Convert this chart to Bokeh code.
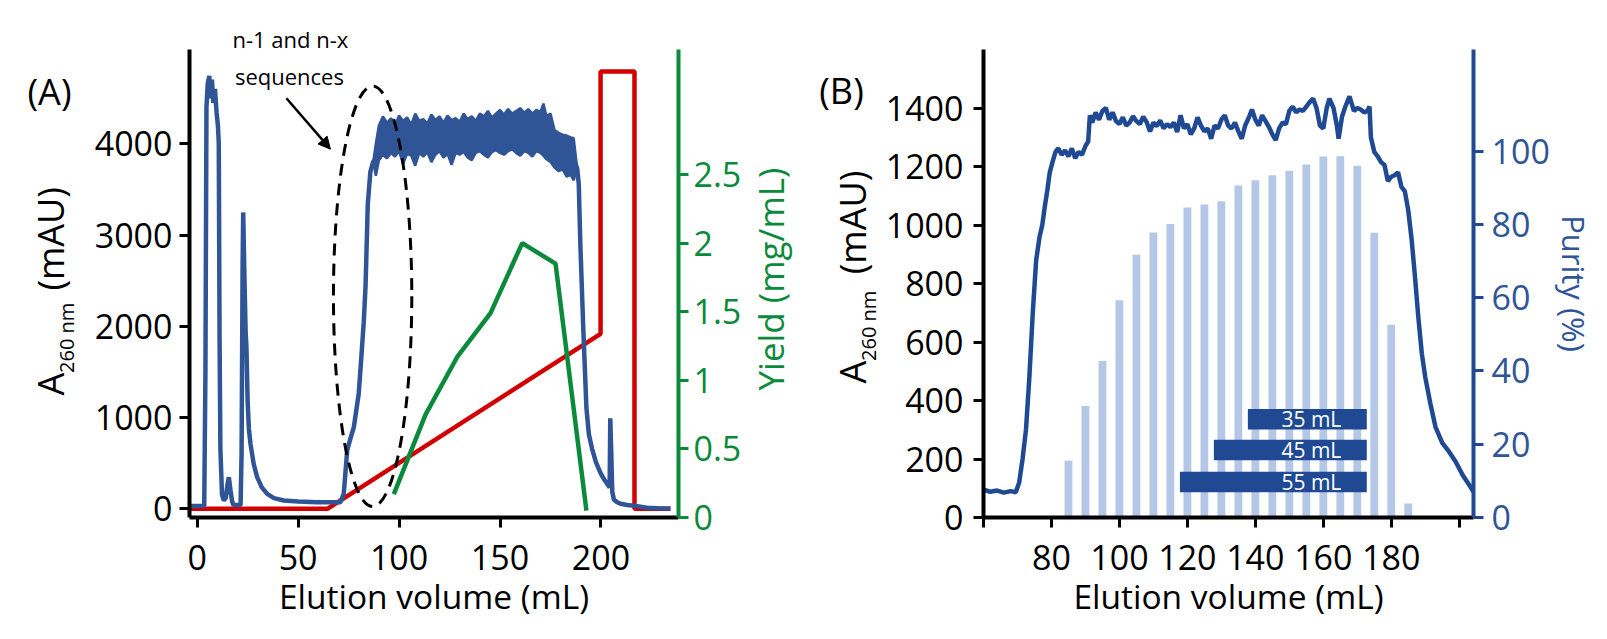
import math
from bokeh.plotting import figure
from bokeh.models import (Range1d, LinearAxis, FixedTicker, Label, Arrow, NormalHead,
                          CustomJSTickFormatter, Title)
from bokeh.layouts import row
from bokeh.core.properties import value
from bokeh.embed import file_html
from bokeh.resources import INLINE

FONT = "Open Sans"

# ---------------- Panel A data ----------------
# A260 trace (mL, mAU) before and after the noisy product plateau
a_rise_vol = [-3.8, 3.5, 4.1, 4.6, 5.2, 6.0, 6.6, 7.3, 8.0, 8.8, 9.6, 10.3, 10.7, 11.1, 11.5, 12.3, 13.2,
              14.2, 15.0, 15.7, 16.5, 17.3, 18.0, 21.5, 22.0, 22.5, 22.8, 23.3, 24.0, 24.4, 25.0, 25.6,
              26.4, 28.0, 29.7, 32.0, 34.7, 38.0, 42.9, 50.0, 59.4, 71.0, 72.6, 74.3, 76.0, 77.6, 80.0,
              81.2, 82.5, 83.4, 84.5, 85.8, 87.2]
a_rise_abs = [31, 31, 1534, 4397, 4652, 4744, 4499, 4703, 4448, 4601, 4346, 4192, 4008, 1840, 660, 153, 92,
              123, 266, 347, 204, 82, 41, 41, 613, 2658, 3248, 2658, 1943, 1774, 1176, 881,
              713, 491, 347, 235, 164, 118, 91, 80, 73, 73, 164, 639, 777, 895, 1260,
              1626, 2045, 2444, 3338, 3696, 3804]
a_fall_vol = [188.2, 189.0, 189.8, 191.2, 192.8, 194.0, 195.6, 197.5, 199.8, 202.0, 204.3, 204.6, 205.1,
              205.6, 206.4, 208.0, 209.7, 213.0, 216.2, 222.9, 228.0, 234.4]
a_fall_abs = [3732, 3560, 2891, 1998, 1104, 818, 658, 511, 391, 307, 234, 993, 613, 184, 102, 72, 55, 43,
              33, 11, 6, 4]
# noisy plateau envelope (upper / lower edge of the trace)
a_plat_vol = [87.2, 88.5, 90, 92, 94, 96, 98, 100, 102, 104, 106, 108, 110, 112, 114, 116, 118, 120, 122,
              124, 126, 128, 130, 132, 134, 136, 138, 140, 142, 144, 146, 148, 150, 152, 154, 156, 158,
              160, 162, 164, 166, 168, 170, 171.5, 173, 175, 177, 179, 181, 183, 185, 186.5, 188.2]
a_plat_hi = [3804, 4000, 4200, 4300, 4230, 4280, 4200, 4310, 4250, 4290, 4210, 4330, 4250, 4270, 4220, 4320,
             4260, 4300, 4230, 4310, 4260, 4280, 4240, 4330, 4270, 4300, 4250, 4330, 4300, 4360, 4290, 4330,
             4370, 4320, 4380, 4330, 4360, 4390, 4340, 4380, 4330, 4370, 4350, 4440, 4300, 4330, 4150, 4120,
             4100, 4090, 4070, 4060, 3732]
a_plat_lo = [3804, 3650, 3820, 3880, 3840, 3900, 3860, 3920, 3780, 3890, 3870, 3760, 3900, 3860, 3910, 3800,
             3880, 3920, 3850, 3890, 3770, 3900, 3880, 3910, 3850, 3820, 3900, 3920, 3880, 3850, 3910, 3930,
             3900, 3880, 3920, 3940, 3900, 3870, 3920, 3900, 3860, 3920, 3900, 3870, 3830, 3800, 3740, 3700,
             3720, 3640, 3660, 3600, 3732]
# gradient (red) trace on the A260 scale
a_grad_vol = [-3.8, 64.5, 199.8, 199.8, 216.6, 216.6, 234.4]
a_grad_val = [0, 0, 1918, 4792, 4792, 0, 0]
# yield (green)
a_yield_vol = [97.4, 113.1, 128.8, 145.3, 161.0, 177.5, 192.8]
a_yield = [0.17, 0.75, 1.17, 1.49, 2.0, 1.85, 0.05]
a_xticks = [0, 50, 100, 150, 200]
a_yticks = [0, 1000, 2000, 3000, 4000]
a_yield_ticks = [0, 0.5, 1, 1.5, 2, 2.5]
# annotation: dashed ellipse around the n-1 / n-x region and its arrow
ell_center = (86.9, 2329)
ell_size = (38.8, 4607)
arrow_from = (44.2, 4499)
arrow_to = (66.0, 3941)
note_lines = ["n-1 and n-x", "sequences"]
note_pos = (45.7, 4743)

# ---------------- Panel B data ----------------
b_vol = [60, 62, 64, 66, 68, 69.5, 70.5, 71.5, 72.5, 73.5, 74.5, 75.5, 76.5, 77.3, 78, 78.8, 79.5, 80.3,
         81.2, 82, 83, 84, 85, 86, 87, 88, 89, 90, 90.8, 91.3, 92, 93, 94, 95, 96, 97, 98, 99, 100,
         101, 102, 103, 104, 105, 106, 107, 108, 109, 110, 111, 112, 113, 114, 115, 116, 117, 118, 119,
         120, 121, 122, 123, 124, 125, 126, 127, 128, 129, 130, 131, 132, 133, 134, 135, 136, 137, 138,
         139, 140, 141, 142, 143, 144, 145, 146, 147, 148, 149, 150, 151, 152, 153, 154, 155, 156, 157,
         158, 159, 160, 161, 161.8, 163, 164, 164.5, 165.5, 166.5, 167.7, 169, 170, 171, 172, 173, 173.6,
         174, 175, 176, 177, 178, 179, 180, 181, 182, 183, 184, 185, 186, 187, 188, 189, 190, 191.5,
         193, 195, 197, 199, 201, 203, 204.2]
b_abs = [95, 88, 92, 85, 90, 86, 120, 200, 300, 480, 700, 880, 960, 1000, 1060, 1120, 1180, 1215,
         1250, 1262, 1240, 1255, 1235, 1262, 1228, 1250, 1240, 1270, 1285, 1375, 1350, 1385, 1360, 1390,
         1400, 1360, 1385, 1355, 1345, 1368, 1340, 1350, 1372, 1355, 1345, 1370, 1352, 1320, 1350, 1338,
         1358, 1330, 1345, 1335, 1350, 1318, 1375, 1330, 1345, 1310, 1330, 1368, 1340, 1320, 1330, 1295,
         1340, 1330, 1360, 1375, 1340, 1330, 1350, 1320, 1295, 1340, 1365, 1395, 1360, 1340, 1375, 1355,
         1335, 1310, 1290, 1330, 1350, 1345, 1390, 1405, 1385, 1395, 1390, 1405, 1420, 1432, 1400, 1340,
         1330, 1400, 1432, 1400, 1340, 1295, 1370, 1405, 1440, 1390, 1400, 1395, 1385, 1390, 1405,
         1300, 1250, 1235, 1215, 1205, 1150, 1165, 1170, 1180, 1130, 1115, 1050, 950, 820, 680, 560, 480,
         390, 310, 255, 225, 190, 145, 110, 88]
b_frac_vol = [85, 90, 95, 100, 105, 110, 115, 120, 125, 130, 135, 140, 145, 150, 155, 160, 165, 170, 175,
              180, 185]
b_purity = [15.5, 30.4, 42.7, 59.3, 71.7, 77.8, 80.1, 84.6, 85.4, 86.3, 90.6, 92.0, 93.4, 94.6, 96.3,
            98.5, 98.6, 96.0, 77.7, 52.6, 3.8]
b_pool_len = [35, 45, 55]
b_pool_end = [172.8, 172.8, 172.8]
b_pool_row = [26.8, 18.4, 9.7]
b_pool_text = ["35 mL", "45 mL", "55 mL"]
b_xticks = [60, 80, 100, 120, 140, 160, 180, 200]
b_yticks = [0, 200, 400, 600, 800, 1000, 1200, 1400]
b_ptick = [0, 20, 40, 60, 80, 100]

BLUE_A = "#2f5597"
RED = "#d20000"
GREEN = "#0b8a3c"
BLUE_B = "#1f4a93"
LIGHT = "#b4c7e7"
H = 639
TOP = 49          # common border above the plot frames
BOTTOM = 122      # common border below the plot frames
FH = H - TOP - BOTTOM
LW = 4.5
TICK_FS = "34px"


def style_axis(ax, color, ticks, standoff, label_color=None, fmt=None):
    ax.ticker = FixedTicker(ticks=ticks, minor_ticks=[])
    ax.axis_line_color = color
    ax.axis_line_width = 4
    ax.major_tick_line_color = color
    ax.major_tick_line_width = 3
    ax.major_tick_out = 10
    ax.major_tick_in = 0
    ax.minor_tick_line_color = None
    ax.major_label_text_font = FONT
    ax.major_label_text_font_size = TICK_FS
    ax.major_label_text_color = label_color or color
    ax.major_label_standoff = standoff
    if fmt is not None:
        ax.formatter = fmt


def text_fig(width):
    # frame aligned with the plot frames of the row; coordinates are pixels from frame bottom-left
    t = figure(width=width, height=H, x_range=Range1d(0, width), y_range=Range1d(0, FH), title=None,
               x_axis_type=None, y_axis_type=None, output_backend="svg", toolbar_location=None,
               min_border=0, min_border_left=0, min_border_right=0, min_border_top=TOP,
               min_border_bottom=BOTTOM)
    t.outline_line_color = None
    return t


def lab(p, text, x, y, size, color="black", angle=0.0):
    p.add_layout(Label(x=x, y=y, text=text, text_font=FONT, text_font_size=size, text_color=color,
                       angle=angle, text_align="center", text_baseline="middle"))


UP = math.pi / 2
# page layout (px from page left): tA 0-85 | pA 85-745 | tAR 745-800 | tB 800-882 | pB 882-1607
tA = text_fig(85)
lab(tA, "(A)", 49, 426, "36px")
lab(tA, "A", 50.3, 133.5, "36px", angle=UP)
lab(tA, "260 nm", 66.1, 179.7, "20px", angle=UP)
lab(tA, "(mAU)", 50.3, 278.7, "36px", angle=UP)

tAR = text_fig(55)
lab(tAR, "Yield  (mg/mL)", 25.4, 243, "35px", color=GREEN, angle=UP)

tB = text_fig(82)
lab(tB, "(B)", 41, 427, "36px")
lab(tB, "A", 52, 145.5, "36px", angle=UP)
lab(tB, "260 nm", 67.8, 191.7, "20px", angle=UP)
lab(tB, "(mAU)", 52, 295, "36px", angle=UP)

# ================= Panel A =================
pA = figure(width=660, height=H, x_range=Range1d(-3.8, 238.4), y_range=Range1d(-95, 5033),
            output_backend="svg", toolbar_location=None,
            min_border_left=104, min_border_right=67, min_border_top=TOP, min_border_bottom=BOTTOM)
pA.extra_y_ranges = {"yield": Range1d(0, 3.411)}
pA.xgrid.visible = False
pA.ygrid.visible = False
pA.outline_line_color = None

style_axis(pA.xaxis[0], "black", a_xticks, 17)
style_axis(pA.yaxis[0], "black", a_yticks, 7)
yax = LinearAxis(y_range_name="yield")
style_axis(yax, GREEN, a_yield_ticks, 5, fmt=CustomJSTickFormatter(code="return tick.toString()"))
pA.add_layout(yax, "right")

pA.line(a_grad_vol, a_grad_val, line_color=RED, line_width=LW)

mid = [(h + l) / 2 for h, l in zip(a_plat_hi, a_plat_lo)]
a_full_vol = a_rise_vol + a_plat_vol[1:-1] + a_fall_vol
a_full_abs = a_rise_abs + mid[1:-1] + a_fall_abs
pA.line(a_full_vol, a_full_abs, line_color=BLUE_A, line_width=LW)
pA.varea(x=a_plat_vol, y1=a_plat_lo, y2=a_plat_hi, fill_color=BLUE_A)
pA.line(a_plat_vol, a_plat_hi, line_color=BLUE_A, line_width=2.5)
pA.line(a_plat_vol, a_plat_lo, line_color=BLUE_A, line_width=2.5)

pA.line(a_yield_vol, a_yield, line_color=GREEN, line_width=LW, y_range_name="yield")

pA.ellipse(x=[ell_center[0]], y=[ell_center[1]], width=[ell_size[0]], height=[ell_size[1]],
           fill_color=None, line_color="black", line_width=3, line_dash="12 8")
pA.add_layout(Arrow(x_start=arrow_from[0], y_start=arrow_from[1], x_end=arrow_to[0], y_end=arrow_to[1],
                    line_width=2.5, line_color="black",
                    end=NormalHead(size=12, fill_color="black", line_color="black")))
pA.add_layout(Label(x=note_pos[0], y=note_pos[1], text=note_lines[1], text_font=FONT,
                    text_font_size="22px", text_color="black", text_align="center",
                    text_baseline="middle"))
pA.add_layout(Title(text=note_lines[0], align="left", offset=43, standoff=-9, text_font=FONT,
                    text_font_size="22px", text_font_style="normal", text_color="black"), "above")
pA.add_layout(Title(text="Elution volume (mL)", align="center", offset=16, standoff=-3, text_font=FONT,
                    text_font_size="33.5px", text_font_style="normal", text_color="black"), "below")

# ================= Panel B =================
pB = figure(width=725, height=H, x_range=Range1d(60, 204.2), y_range=Range1d(0, 1600),
            output_backend="svg", toolbar_location=None,
            min_border_left=98, min_border_right=134, min_border_top=TOP, min_border_bottom=BOTTOM)
pB.extra_y_ranges = {"purity": Range1d(0, 127.7)}
pB.xgrid.visible = False
pB.ygrid.visible = False
pB.outline_line_color = None

style_axis(pB.xaxis[0], "black", b_xticks, 17,
           fmt=CustomJSTickFormatter(code="return (tick < 70 || tick > 190) ? '' : tick.toString()"))
style_axis(pB.yaxis[0], "black", b_yticks, 10)
pax = LinearAxis(y_range_name="purity", axis_label="Purity (%)")
style_axis(pax, BLUE_B, b_ptick, 8, label_color=BLUE_A)
pax.axis_label_text_font = FONT
pax.axis_label_text_font_size = "31px"
pax.axis_label_text_font_style = "normal"
pax.axis_label_text_color = BLUE_A
pax.axis_label_standoff = 0
pB.add_layout(pax, "right")

pB.vbar(x=b_frac_vol, top=b_purity, width=2.3, fill_color=LIGHT, line_color=None, y_range_name="purity")
pB.line(b_vol, b_abs, line_color=BLUE_B, line_width=LW)
b_pool_start = [e - l for e, l in zip(b_pool_end, b_pool_len)]
pB.hbar(y=b_pool_row, left=b_pool_start, right=b_pool_end, height=5.6, fill_color=BLUE_B,
        line_color=None, y_range_name="purity")
pB.text(x=[165.3] * 3, y=b_pool_row, text=b_pool_text, text_font=value(FONT),
        text_font_size=value("21px"), text_color="white", text_align="right",
        text_baseline="middle", y_range_name="purity")
pB.add_layout(Title(text="Elution volume (mL)", align="center", offset=6, standoff=-3, text_font=FONT,
                    text_font_size="33.5px", text_font_style="normal", text_color="black"), "below")

layout = row(tA, pA, tAR, tB, pB)
open("out.html", "w").write(file_html(layout, INLINE))
